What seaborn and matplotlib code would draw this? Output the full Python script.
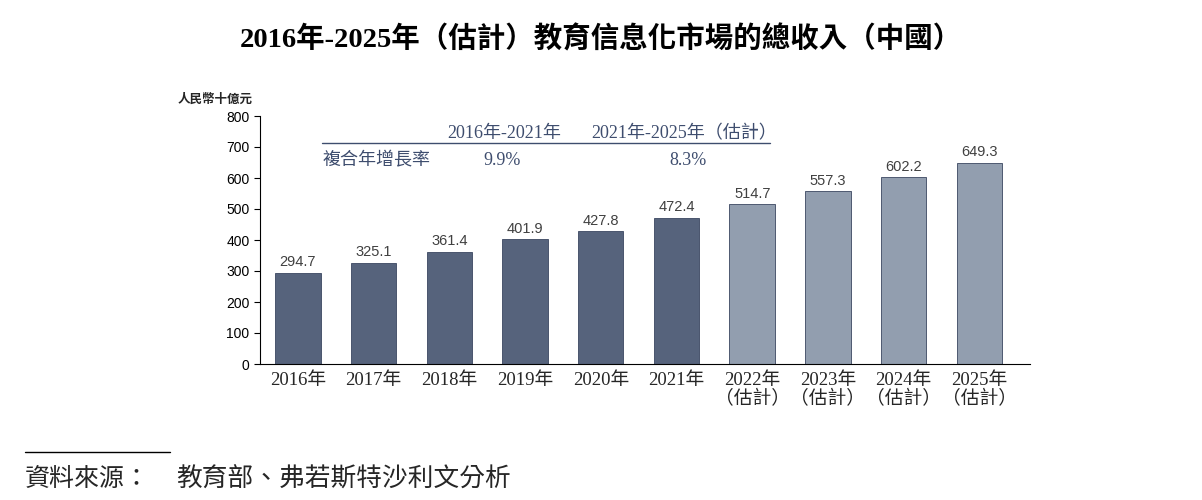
import matplotlib
matplotlib.use("Agg")
import matplotlib.pyplot as plt
import pandas as pd
import seaborn as sns

years = ["2016", "2017", "2018", "2019", "2020", "2021", "2022", "2023", "2024", "2025"]
revenue = [294.7, 325.1, 361.4, 401.9, 427.8, 472.4, 514.7, 557.3, 602.2, 649.3]
estimated = [False] * 6 + [True] * 4
period_labels = ["2016年-2021年", "2021年-2025年（估計）"]
cagr_values = ["9.9%", "8.3%"]

labels = [y + "年\n（估計）" if e else y + "年" for y, e in zip(years, estimated)]
df = pd.DataFrame({"label": labels, "revenue": revenue})

DARK = "#506182"
LIGHT = "#8d9db4"
TXT = "#3e4d6e"
SERIF = ["Liberation Serif", "Noto Sans CJK TC"]
SANS = ["Liberation Sans", "Noto Sans CJK TC"]

sns.set_style("white")
plt.rcParams["font.family"] = SANS

fig = plt.figure(figsize=(12.02, 5.0), dpi=100)
ax = fig.add_axes([0.2163, 0.272, 0.857 - 0.2163, 0.768 - 0.272])

sns.barplot(data=df, x="label", y="revenue", hue="label",
            palette=[LIGHT if e else DARK for e in estimated],
            width=0.6, edgecolor="#3a4660", linewidth=0.6,
            legend=False, ax=ax)

for i, v in enumerate(revenue):
    ax.text(i, v + 12, f"{v:.1f}", ha="center", va="bottom",
            fontsize=10.5, color="#404040", family=SANS)

ax.set_xlim(-0.5, 9.67)
ax.set_ylim(0, 800)
ax.set_yticks(range(0, 801, 100))
ax.set_xlabel("")
ax.set_ylabel("")
ax.tick_params(axis="y", length=4, width=0.8, direction="out", left=True,
               labelsize=10, colors="black")
ax.tick_params(axis="x", length=0, pad=6)
for t in ax.get_xticklabels():
    t.set_family(SERIF)
    t.set_fontsize(13.5)
    t.set_linespacing(1.05)
for s in ["left", "bottom"]:
    ax.spines[s].set_color("black")
    ax.spines[s].set_linewidth(0.8)
sns.despine(ax=ax)

# CAGR table
ax.plot([0.32, 6.24], [713, 713], color=TXT, lw=1.0)
ax.text(2.72, 744, period_labels[0], ha="center", va="center",
        fontsize=13, color=TXT, family=SERIF)
ax.text(5.1, 744, period_labels[1], ha="center", va="center",
        fontsize=13, color=TXT, family=SERIF)
ax.text(0.32, 655, "複合年增長率", ha="left", va="center",
        fontsize=13, color=TXT, family=SERIF)
ax.text(2.70, 655, cagr_values[0], ha="center", va="center",
        fontsize=13, color=TXT, family=SERIF)
ax.text(5.15, 655, cagr_values[1], ha="center", va="center",
        fontsize=13, color=TXT, family=SERIF)

fig.text(0.148, 0.80, "人民幣十億元", ha="left", va="center",
         fontsize=9, fontweight="bold", family=SANS)
fig.text(0.5, 0.922, "2016年-2025年（估計）教育信息化市場的總收入（中國）",
         ha="center", va="center", fontsize=20.5, fontweight="bold",
         color="black", family=SERIF)

fig.add_artist(plt.Line2D([25 / 1202, 170 / 1202], [1 - 452 / 500] * 2,
                          color="black", lw=1.0))
fig.text(25 / 1202, 1 - 479 / 500, "資料來源：",
         ha="left", va="center", fontsize=18, style="italic", family=SERIF)
fig.text(176 / 1202, 1 - 479 / 500, "教育部、弗若斯特沙利文分析",
         ha="left", va="center", fontsize=18.5, style="italic", family=SERIF)

fig.savefig("out.png", dpi=100)
